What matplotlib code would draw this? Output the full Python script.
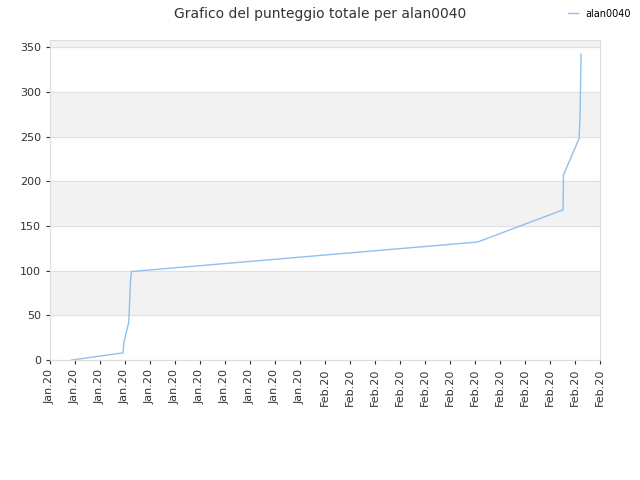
import matplotlib.pyplot as plt
import numpy as np

# day of year (approx) and cumulative score
days = [3.3, 8.7, 8.8, 9.3, 9.5, 9.6, 46.1, 55.1, 55.15, 56.8, 56.9, 57.0]
score = [0, 8, 20, 42, 90, 99, 132, 168, 207, 248, 275, 342]
tick_days = [1 + i * 58 / 22 for i in range(23)]
tick_labels = ["Jan.20"] * 11 + ["Feb.20"] * 12

fig = plt.figure(figsize=(6.4, 4.8), dpi=100)
ax = fig.add_axes([50 / 640, 120 / 480, 550 / 640, 320 / 480])

for lo in [50, 150, 250, 350]:
    ax.axhspan(lo, lo + 50, color="#f2f2f2", zorder=0)
for y in range(0, 351, 50):
    ax.axhline(y, color="#e0e0e0", lw=0.8, zorder=0)

ax.plot(days, score, color="#90c0f0", lw=1, label="alan0040")
ax.set_xlim(tick_days[0], tick_days[-1])
ax.set_ylim(0, 358)
ax.set_yticks(range(0, 351, 50))
ax.set_xticks(tick_days)
ax.set_xticklabels(tick_labels, rotation=90)
ax.tick_params(labelsize=8, colors="#333333", length=3)
for s in ax.spines.values():
    s.set_color("#dddddd")

fig.suptitle("Grafico del punteggio totale per alan0040", y=0.985, fontsize=10, color="#333333")
fig.legend(loc="upper right", bbox_to_anchor=(1.0, 1.0), frameon=False, fontsize=7, handlelength=1)
fig.savefig("out.png")
